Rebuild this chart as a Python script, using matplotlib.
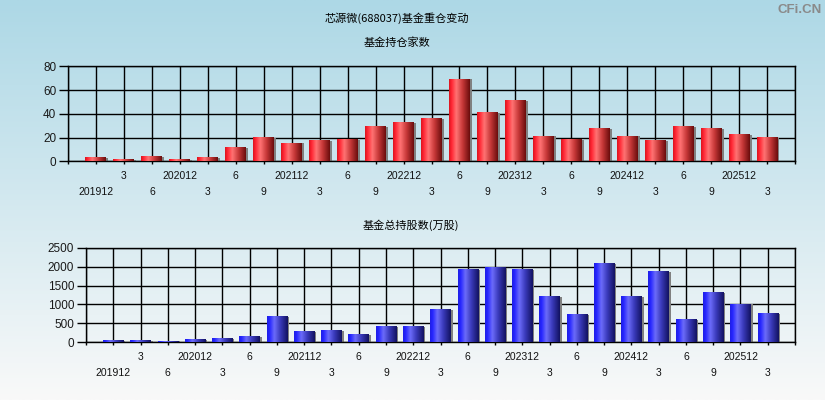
import numpy as np
import matplotlib
matplotlib.use('Agg')
import matplotlib.pyplot as plt
from matplotlib.colors import LinearSegmentedColormap

# ---- data ----
periods = ["201912", "3", "6", "202012", "3", "6", "9", "202112", "3", "6", "9",
           "202212", "3", "6", "9", "202312", "3", "6", "9", "202412", "3", "6", "9",
           "202512", "3"]
fund_counts = [3, 1, 4, 1, 3, 11, 20, 15, 17, 18, 29, 32, 36, 69, 41, 51, 21, 18,
               27, 21, 17, 29, 27, 22, 20]
fund_shares = [30, 30, 25, 60, 90, 140, 670, 270, 300, 190, 400, 400, 850, 1910,
               1960, 1905, 1200, 720, 2070, 1200, 1860, 590, 1300, 1000, 750]

title_main = "芯源微(688037)基金重仓变动"
title_top = "基金持仓家数"
title_bottom = "基金总持股数(万股)"
watermark = "CFi.CN"

plt.rcParams['font.family'] = ['Liberation Sans', 'DejaVu Sans']
CJK = ['Noto Sans CJK SC', 'DejaVu Sans']

W, H = 825, 400
fig = plt.figure(figsize=(W / 100, H / 100), dpi=100)

# background gradient
bg = fig.add_axes([0, 0, 1, 1], zorder=-10)
top_c = np.array([173, 216, 230]) / 255
bot_c = np.array([249, 249, 249]) / 255
t = np.linspace(0, 1, 256).reshape(-1, 1, 1)
grad_bg = top_c * (1 - t) + bot_c * t
grad_bg = np.repeat(grad_bg, 2, axis=1)
bg.imshow(grad_bg, aspect='auto', extent=[0, 1, 0, 1], interpolation='bilinear')
bg.set_axis_off()

red_stops = [(0.0, (0.86, 0.08, 0.12)), (0.12, (1.0, 0.15, 0.2)),
             (0.35, (1.0, 0.45, 0.45)), (0.65, (0.78, 0.22, 0.22)),
             (1.0, (0.42, 0.05, 0.05))]
blue_stops = [(0.0, (0.12, 0.12, 0.9)), (0.12, (0.15, 0.15, 1.0)),
              (0.35, (0.42, 0.42, 0.98)), (0.65, (0.22, 0.22, 0.72)),
              (1.0, (0.07, 0.07, 0.38))]


def px_axes(left, top, right, bottom):
    return [left / W, 1 - bottom / H, (right - left) / W, (bottom - top) / H]


def draw(ax, values, ylim, yticks, stops):
    n = len(values)
    x = np.arange(n)
    ax.set_facecolor('none')
    ax.bar(x + 0.07, values, width=0.75, color='#808080', zorder=2)
    bars = ax.bar(x, values, width=0.75, color='none', zorder=3)
    cmap = LinearSegmentedColormap.from_list('g', stops)
    g = np.linspace(0, 1, 64).reshape(1, -1)
    for r in bars:
        ax.imshow(g, cmap=cmap, aspect='auto', zorder=3, interpolation='bilinear',
                  extent=[r.get_x(), r.get_x() + r.get_width(), 0, r.get_height()])
    ax.set_xlim(-1, n)
    ax.set_ylim(*ylim)
    ax.set_xticks(np.arange(-1, n + 1))
    ax.set_xticklabels([])
    ax.set_yticks(yticks)
    ax.grid(True, color='black', lw=1.0)
    ax.set_axisbelow(True)
    for sp in ax.spines.values():
        sp.set_color('black')
        sp.set_linewidth(1.0)
    ax.tick_params(axis='x', direction='out', length=2.5, width=1.0)
    ax.tick_params(axis='y', direction='out', length=6.5, width=1.0, pad=2,
                   labelsize=8.5, labelcolor='#1a1a1a')
    for i, lab in enumerate(periods):
        off = -10.4 if i % 2 == 1 else -21.9
        ax.annotate(lab, xy=(i, 0), xycoords=('data', 'axes fraction'),
                    xytext=(0, off), textcoords='offset points',
                    ha='center', va='center', fontsize=7.5, color='#111111')


ax1 = fig.add_axes(px_axes(68, 66.3, 795, 161.3))
draw(ax1, fund_counts, (0, 80), [0, 20, 40, 60, 80], red_stops)

ax2 = fig.add_axes(px_axes(86, 247.7, 795, 342.3))
draw(ax2, fund_shares, (0, 2500), [0, 500, 1000, 1500, 2000, 2500], blue_stops)

fig.text(397 / W, 1 - 18 / H, title_main, family=CJK, fontsize=8, ha='center', va='center')
fig.text(397 / W, 1 - 43 / H, title_top, family=CJK, fontsize=8, ha='center', va='center')
fig.text(411 / W, 1 - 225 / H, title_bottom, family=CJK, fontsize=8, ha='center', va='center')
fig.text(799.5 / W, 1 - 10 / H, watermark, fontsize=9.5, fontweight='bold',
         color='#8a8a8a', ha='center', va='center')

fig.savefig('out.png', dpi=100)
